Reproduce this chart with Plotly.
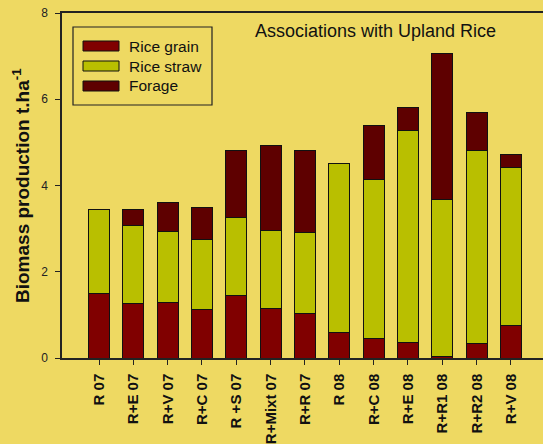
import plotly.graph_objects as go

categories = ["R 07", "R+E 07", "R+V 07", "R+C 07", "R +S 07", "R+Mixt 07", "R+R 07",
              "R 08", "R+C 08", "R+E 08", "R+R1 08", "R+R2 08", "R+V 08"]
rice_grain = [1.49, 1.26, 1.28, 1.12, 1.44, 1.15, 1.03, 0.58, 0.45, 0.36, 0.03, 0.33, 0.76]
rice_straw = [1.95, 1.81, 1.65, 1.63, 1.82, 1.81, 1.88, 3.92, 3.68, 4.92, 3.64, 4.48, 3.65]
forage = [0.00, 0.37, 0.67, 0.73, 1.55, 1.96, 1.90, 0.00, 1.27, 0.52, 3.39, 0.89, 0.32]
y_ticks = [0, 2, 4, 6, 8]

BG = "#EED962"
C_GRAIN = "#800000"
C_STRAW = "#B9BF00"
C_FORAGE = "#5E0000"
FONT = "Liberation Sans, Arial, sans-serif"

W, H = 543, 444
L, R, T, B = 62, 0, 13, 86
PW, PH = W - L - R, H - T - B


def px(xp):
    return (xp - L) / PW


def py(yp):
    return (H - B - yp) / PH


x_index = list(range(len(categories)))
fig = go.Figure()
for name, vals, col in [("Rice grain", rice_grain, C_GRAIN),
                        ("Rice straw", rice_straw, C_STRAW),
                        ("Forage", forage, C_FORAGE)]:
    fig.add_trace(go.Bar(x=x_index, y=vals, name=name, marker_color=col,
                         marker_line=dict(color="#111111", width=1)))

first_px, step_px = 99, 34.33
fig.update_layout(
    width=W, height=H, barmode="stack", bargap=0.39,
    paper_bgcolor=BG, plot_bgcolor=BG, showlegend=False,
    margin=dict(l=L, r=R, t=T, b=B, autoexpand=False),
    font=dict(family=FONT, color="#111111"),
    xaxis=dict(tickmode="array", tickvals=x_index, ticktext=categories,
               range=[(L - first_px) / step_px, (W - first_px) / step_px],
               tickangle=-90, ticks="outside", ticklen=5, tickcolor="#222222",
               ticklabelstandoff=3,
               tickfont=dict(size=15, family=FONT, weight="bold", color="#111111"),
               showline=True, linecolor="#222222", linewidth=1.5, mirror=True,
               showgrid=False, zeroline=False),
    yaxis=dict(range=[0, 8], tickvals=y_ticks, ticks="outside", ticklen=5,
               tickcolor="#222222", ticklabelstandoff=5,
               tickfont=dict(size=12, family=FONT, color="#222222"),
               showline=True, linecolor="#222222", linewidth=1.5,
               showgrid=False, zeroline=False),
)

# Y-axis title
fig.add_annotation(text="Biomass production t.ha<sup>-1</sup>", textangle=-90,
                   xref="paper", yref="paper", x=px(21), y=py(186),
                   xanchor="center", yanchor="middle", showarrow=False,
                   font=dict(size=19, family=FONT, weight="bold", color="#111111"))

# Inner title
fig.add_annotation(text="Associations with Upland Rice", xref="paper", yref="paper",
                   x=px(375), y=py(31), xanchor="center", yanchor="middle",
                   showarrow=False, font=dict(size=18, family=FONT, color="#111111"))

# Legend box
fig.add_shape(type="rect", xref="paper", yref="paper", x0=px(73), x1=px(212),
              y0=py(105), y1=py(27), line=dict(color="#222222", width=1.2),
              fillcolor="rgba(0,0,0,0)")
for i, (name, col) in enumerate([("Rice grain", C_GRAIN), ("Rice straw", C_STRAW),
                                  ("Forage", C_FORAGE)]):
    yc = 46 + 20 * i
    fig.add_shape(type="rect", xref="paper", yref="paper", x0=px(83), x1=px(119),
                  y0=py(yc + 5), y1=py(yc - 5), fillcolor=col,
                  line=dict(color="#111111", width=1))
    fig.add_annotation(text=name, xref="paper", yref="paper", x=px(127), y=py(yc),
                       xanchor="left", yanchor="middle", showarrow=False,
                       font=dict(size=15.5, family=FONT, color="#111111"))

fig.write_html("out.html", config={"displayModeBar": False},
               post_script="document.body.style.margin='0';"
                           "document.body.style.background='" + BG + "';")
